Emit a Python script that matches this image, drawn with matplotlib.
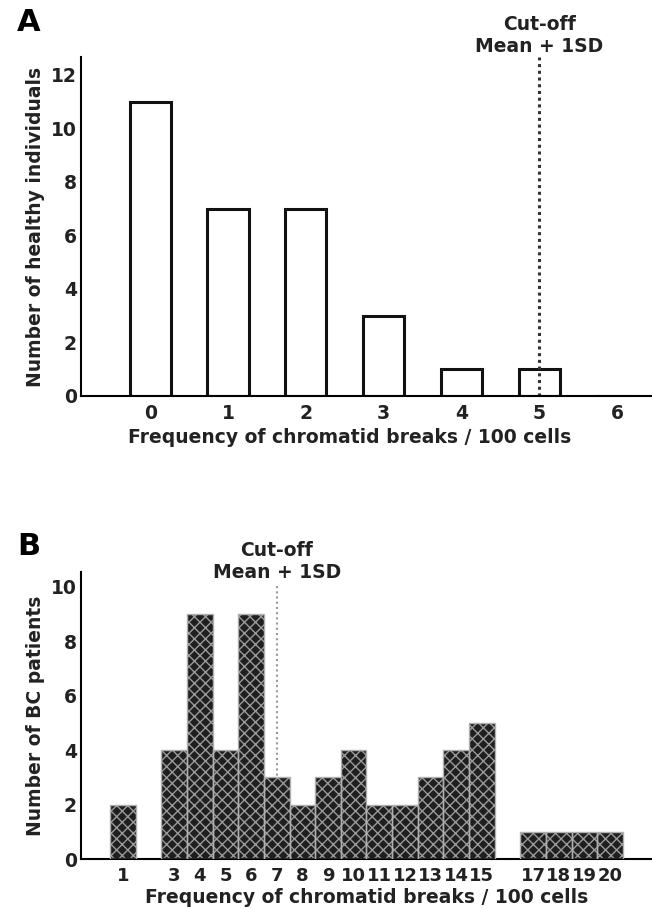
import numpy as np
import matplotlib.pyplot as plt

# panel A: healthy individuals
a_breaks = [0, 1, 2, 3, 4, 5, 6]
a_counts = [11, 7, 7, 3, 1, 1, 0]
a_cutoff = 5

# panel B: BC patients
b_breaks = [1, 3, 4, 5, 6, 7, 8, 9, 10, 11, 12, 13, 14, 15, 17, 18, 19, 20]
b_counts = [2, 4, 9, 4, 9, 3, 2, 3, 4, 2, 2, 3, 4, 5, 1, 1, 1, 1]
b_cutoff = 7

plt.rcParams['font.family'] = 'DejaVu Sans'
plt.rcParams['font.weight'] = 'bold'
plt.rcParams['hatch.linewidth'] = 1.0

txt = '#222222'
fs = 13.5

fig = plt.figure(figsize=(6.52, 9.09), dpi=100)

# A
ax1 = fig.add_axes([0.1242, 0.5644, 0.8758, 0.3729])
ax1.bar(a_breaks, a_counts, width=0.53, facecolor='white', edgecolor='#111111', linewidth=2.2)
ax1.axvline(a_cutoff, color='#333333', linestyle=(0, (1, 1.2)), linewidth=2.2)
ax1.set_xlim(-0.89, 6.45)
ax1.set_ylim(0, 12.67)
ax1.set_xticks(a_breaks)
ax1.set_yticks(range(0, 13, 2))
ax1.set_xlabel('Frequency of chromatid breaks / 100 cells', fontsize=fs, fontweight='bold',
               color=txt, labelpad=3.5)
ax1.xaxis.set_label_coords(0.471, -0.095)
ax1.set_ylabel('Number of healthy individuals', fontsize=fs, fontweight='bold', color=txt)
ax1.text(a_cutoff, 1.004, 'Cut-off\nMean + 1SD', transform=ax1.get_xaxis_transform(),
         ha='center', va='bottom', fontsize=fs, fontweight='bold', color=txt)
fig.text(0.026, 0.975, 'A', fontsize=22, fontweight='bold', ha='left', va='center')

# B
ax2 = fig.add_axes([0.1242, 0.0550, 0.8758, 0.3157])
ax2.axvline(b_cutoff, ymax=0.955, color='#999999', linestyle=(0, (1, 1.5)), linewidth=1.5, zorder=0)
ax2.bar(b_breaks, b_counts, width=1.0, facecolor='#1f1f1f', edgecolor='#9a9a9a',
        hatch='xxx', linewidth=0, zorder=2)
ax2.bar(b_breaks, b_counts, width=1.0, fill=False, edgecolor='#b0b0b0', linewidth=1.0, zorder=3)
ax2.set_xlim(-0.63, 21.63)
ax2.set_ylim(0, 10.55)
ax2.set_xticks(b_breaks)
ax2.set_yticks(range(0, 11, 2))
ax2.set_xlabel('Frequency of chromatid breaks / 100 cells', fontsize=fs, fontweight='bold',
               color=txt, labelpad=2)
ax2.set_ylabel('Number of BC patients', fontsize=fs, fontweight='bold', color=txt)
ax2.text(b_cutoff, 0.967, 'Cut-off\nMean + 1SD', transform=ax2.get_xaxis_transform(),
         ha='center', va='bottom', fontsize=fs, fontweight='bold', color=txt)
fig.text(0.026, 0.399, 'B', fontsize=22, fontweight='bold', ha='left', va='center')

for ax in (ax1, ax2):
    ax.spines['top'].set_visible(False)
    ax.spines['right'].set_visible(False)
    ax.spines['left'].set_linewidth(1.5)
    ax.spines['bottom'].set_linewidth(1.5)
    ax.tick_params(length=0, labelsize=fs, labelcolor=txt)
    ax.tick_params(axis='x', pad=6)
    ax.tick_params(axis='y', pad=3)
    for lbl in ax.get_xticklabels() + ax.get_yticklabels():
        lbl.set_fontweight('bold')
ax2.tick_params(axis='x', labelsize=13)

fig.savefig('out.png', dpi=100)
